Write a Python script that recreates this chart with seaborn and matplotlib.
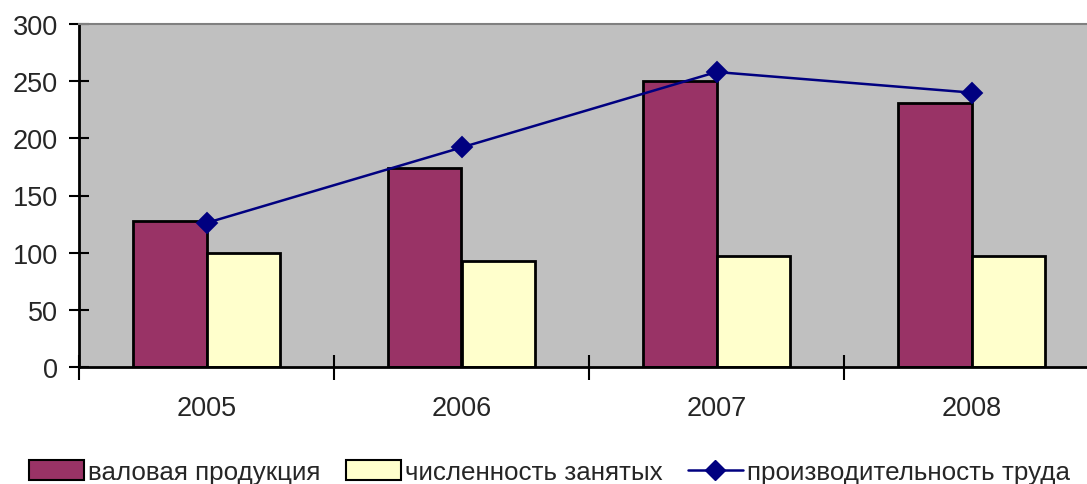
import matplotlib
matplotlib.use("Agg")
import matplotlib.pyplot as plt
import seaborn as sns
import pandas as pd
from matplotlib.patches import Patch
from matplotlib.lines import Line2D

years = ["2005", "2006", "2007", "2008"]
gross_output = [128, 174, 250, 231]
employed = [100, 93, 97, 97]
productivity = [126, 192, 258, 240]
series_names = ["валовая продукция", "численность занятых", "производительность труда"]
yticks = [0, 50, 100, 150, 200, 250, 300]

sns.set_theme(style="white")
plt.rcParams["font.family"] = ["Liberation Sans", "DejaVu Sans"]

df = pd.DataFrame({
    "year": years * 2,
    "value": gross_output + employed,
    "series": [series_names[0]] * 4 + [series_names[1]] * 4,
})

fig = plt.figure(figsize=(10.87, 4.85), dpi=100)
ax = fig.add_axes([79 / 1087, 1 - 368 / 485, 1 - 79 / 1087, (368 - 25) / 485])
ax.set_facecolor("#C0C0C0")

sns.barplot(data=df, x="year", y="value", hue="series",
            palette=["#993366", "#FFFFCC"], saturation=1, width=0.58, gap=0,
            edgecolor="black", linewidth=2, ax=ax, legend=False)
sns.pointplot(x=years, y=productivity, color="#000080", markers="D",
              markersize=10, linewidth=1.8, ax=ax)

ax.set_yticks(yticks)
ax.set_xticks(range(len(years)))
ax.set_xticklabels(years)
ax.set_xticks([-0.5, 0.5, 1.5, 2.5, 3.5], minor=True)
ax.set_ylim(0, 300)
ax.set_xlim(-0.5, -0.5 + (1087 - 79) / 255)
ax.tick_params(left=True, bottom=True, which="both")
ax.tick_params(axis="x", which="major", length=0, pad=20, labelsize=19.5)
ax.tick_params(axis="x", which="minor", length=18, width=1.5, direction="inout", color="black")
ax.tick_params(axis="y", which="major", length=14, width=1.5, direction="inout",
               color="black", pad=8, labelsize=19.5)
ax.set_xlabel("")
ax.set_ylabel("")

for s in ["left", "bottom"]:
    ax.spines[s].set_color("black")
    ax.spines[s].set_linewidth(2)
ax.spines["top"].set_color("#808080")
ax.spines["top"].set_linewidth(1.5)
ax.spines["right"].set_visible(False)

handles = [
    Patch(facecolor="#993366", edgecolor="black", linewidth=1.5),
    Patch(facecolor="#FFFFCC", edgecolor="black", linewidth=1.5),
    Line2D([0], [0], color="#000080", marker="D", markersize=10, linewidth=1.8),
]
fig.legend(handles, series_names, loc="center", bbox_to_anchor=(0.5055, 0.0247),
           ncol=3, frameon=False, fontsize=18.7, handlelength=2.1,
           handletextpad=0.15, columnspacing=1.0, handleheight=0.76,
           borderpad=0, borderaxespad=0)

fig.savefig("out.png", dpi=100)
